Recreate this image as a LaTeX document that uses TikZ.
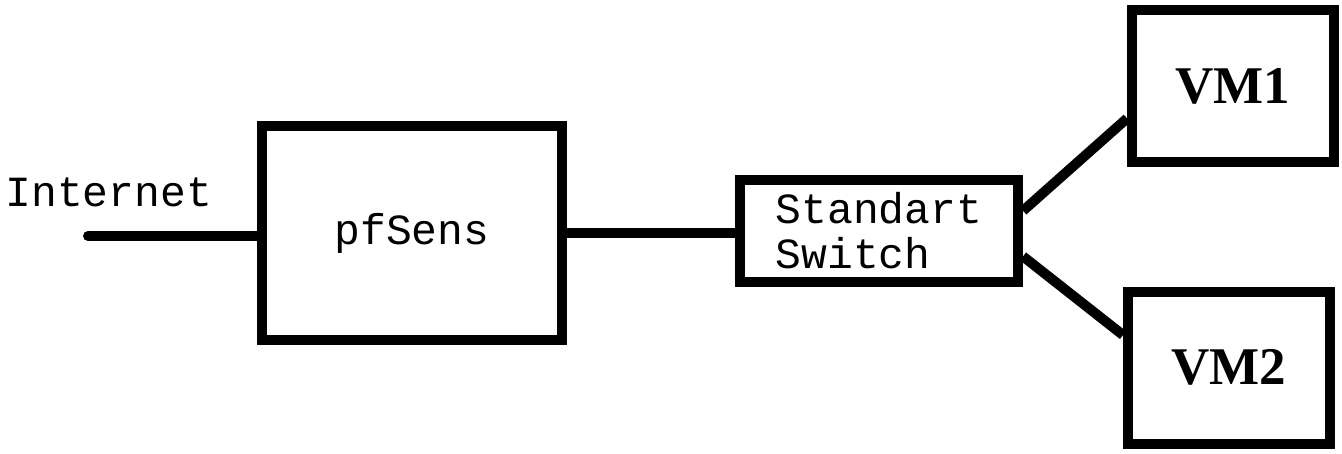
\documentclass[tikz,border=0pt]{standalone}
\usepackage{fontspec}
\setmainfont{Liberation Serif}
\setmonofont{Liberation Mono}
\usepackage{tikz}
\usetikzlibrary{positioning,calc}

\begin{document}
\begin{tikzpicture}[
        x=0.5pt, y=-0.5pt,
        box/.style={rectangle, draw, line width=5pt, inner sep=0pt, font=\fontsize{21.5}{22.5}\selectfont\ttfamily},
        vmbox/.style={rectangle, draw, line width=5pt, inner sep=0pt, minimum width=101pt, minimum height=76pt, font=\fontsize{26.5}{28}\selectfont\bfseries},
        link/.style={line width=5pt}
    ]
    \useasboundingbox (0,0) rectangle (1342,454);

    % Firewall
    \node[box, minimum width=150pt, minimum height=107pt] (pfsens) at (412,233) {pfSens};
    \node[font=\fontsize{21.5}{22.5}\selectfont\ttfamily, anchor=base west, inner sep=0pt] (internet) at (5,206) {Internet};
    \coordinate (uplink) at (88,236);

    % Switch
    \node[box, minimum width=139pt, minimum height=51pt, align=left] (switch) at (879,231) {Standart\\Switch};

    % Virtual machines
    \node[vmbox] (vm1) at (1233,86) {VM1};
    \node[vmbox] (vm2) at (1229,367.5) {VM2};

    % Links
    \draw[link, line cap=round] (uplink) -- (uplink -| pfsens.west);
    \draw[link] (pfsens.east) -- (pfsens.east -| switch.west);
    \draw[link] (switch.8) -- (vm1.197);
    \draw[link] (switch.-10) -- (vm2.163);

\end{tikzpicture}
\end{document}
